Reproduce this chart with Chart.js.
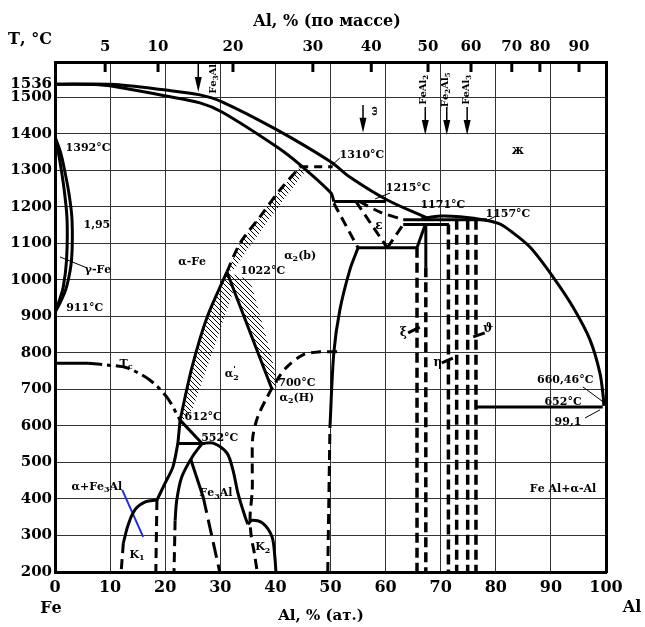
<!DOCTYPE html>
<html>
<head>
<meta charset="utf-8">
<script src="https://cdn.jsdelivr.net/npm/chart.js@4.4.0/dist/chart.umd.min.js"></script>
<style>
  html, body { margin: 0; padding: 0; background: #fff; }
</style>
</head>
<body>
<canvas id="diagram" width="645" height="627"></canvas>
<script>
// Fe-Al phase diagram, at.% Al vs T (°C)
const xTicksAt = [0, 10, 20, 30, 40, 50, 60, 70, 80, 90, 100];
const yTicks = [200, 300, 400, 500, 600, 700, 800, 900, 1000, 1100, 1200, 1300, 1400, 1500, 1536];
const wtLabels = ['5', '10', '20', '30', '40', '50', '60', '70', '80', '90'];
const wtAtPos = [9.1, 18.7, 32.3, 46.8, 57.4, 67.7, 75.5, 82.9, 88.0, 95.1];

// solid boundaries
const liquidusLeft = [[0, 1536], [10.2, 1536], [20.1, 1520], [26.3, 1507], [30.3, 1488], [40.3, 1411], [50.1, 1323], [53.5, 1282], [60.3, 1219], [67.5, 1170]];
const solidusLeft = [[0, 1536], [8, 1535], [10.2, 1531], [20.1, 1504], [26.3, 1485], [30.3, 1460], [40.3, 1364], [44.5, 1315], [50.1, 1238], [50.6, 1215]];
const gammaInner = [[0, 1392], [0.6, 1350], [1.2, 1296], [1.8, 1230], [2.2, 1160], [2.1, 1055], [1.5, 981], [0.7, 940], [0, 911]];
const gammaOuter = [[0, 1392], [1.0, 1350], [1.8, 1296], [2.6, 1230], [3.1, 1160], [3.0, 1055], [2.1, 981], [1.0, 940], [0, 911]];
const curieSolid = [[0, 772], [6, 772]];
const curieDashed = [[6, 772], [9.4, 767], [13.1, 759], [17.2, 726], [20.3, 679], [22.7, 616]];
const alphaLow = [[22.7, 616], [24.9, 763], [27.6, 898], [31.2, 1022]];
const alphaHigh = [[31.2, 1022], [33.6, 1101], [37.2, 1173], [40.8, 1246], [44.5, 1310]];
const line1310 = [[44.5, 1310], [50.4, 1310]];
const line1022 = [[31.2, 1022], [39.4, 700]];
const triangle552 = [[22.7, 616], [22.3, 552], [26.7, 552], [22.7, 616]];
const alphaFe3Al = [[22.3, 552], [21.4, 488], [20.0, 444], [18.5, 397]];
const k1Solid = [[18.5, 397], [16.4, 392], [14.6, 372], [13.3, 330], [12.4, 279]];
const k1Dashed = [[12.4, 279], [12.0, 200]];
const vert18 = [[18.5, 397], [18.4, 300], [18.3, 200]];
const fe3alRight = [[26.7, 552], [28.7, 553], [31.2, 526], [32.3, 479], [33.2, 416], [34.5, 351], [35.0, 331]];
const k2 = [[35.0, 331], [35.8, 342], [37.7, 334], [39.4, 296], [39.9, 241], [40.1, 200]];
const fe3alLeft = [[26.7, 552], [24.9, 515], [23.0, 460], [22.1, 397], [21.8, 342]];
const fe3alLeftDashed = [[21.8, 342], [21.6, 200]];
const b2Solid = [[24.6, 510], [26.9, 405]];
const b2Dashed = [[26.9, 405], [29.9, 200]];
const domeDashed = [[51.2, 803], [48.1, 803], [45.0, 795], [42.1, 762], [40.3, 726], [38.5, 679], [36.8, 625], [35.9, 570], [35.8, 499], [35.8, 425], [35.4, 351], [35.6, 300], [36.2, 250], [36.7, 200]];
const feal50Dashed = [[49.5, 200], [49.9, 597]];
const feal50Solid = [[49.9, 597], [50.6, 800], [51.7, 918], [53.5, 1027], [55.0, 1088]];
const bar1090 = [[55.0, 1088], [65.7, 1088]];
const bar1215 = [[50.6, 1215], [60.1, 1215]];
const epsLeft = [[50.6, 1210], [55.0, 1088]];
const epsMid = [[54.6, 1215], [60.3, 1088]];
const epsRight = [[60.3, 1088], [63.2, 1152]];
const epsTop = [[55.2, 1215], [59.0, 1186], [63.2, 1165]];
const epsEdge = [[65.7, 1088], [67.2, 1152]];
const bar1165 = [[63.2, 1165], [78.4, 1165]];
const bar1152 = [[63.2, 1152], [71.5, 1152]];
const feal2Solid = [[67.3, 1152], [67.3, 1035]];
const feal2Dashed = [[67.3, 1035], [67.3, 200]];
const vert657 = [[65.7, 1088], [65.7, 200]];
const vert714 = [[71.4, 1152], [71.4, 200]];
const vert729 = [[72.9, 1165], [72.9, 200]];
const vert749 = [[74.9, 1165], [74.9, 200]];
const vert764 = [[76.4, 1165], [76.4, 200]];
const bar652 = [[76.4, 652], [99.4, 652]];
const liquidusRight = [[66.5, 1168], [69.9, 1175], [73.5, 1173], [78.4, 1163], [80.8, 1153], [82.6, 1135], [86.2, 1090], [90.4, 1008], [94.0, 926], [97.1, 836], [98.9, 745], [99.5, 680], [99.6, 655]];

// hatched bands
const hatchHigh = [[31.2, 1022], [33.6, 1101], [37.2, 1173], [40.8, 1246], [44.5, 1310], [45.3, 1295], [42.0, 1230], [38.6, 1160], [35.0, 1085], [32.6, 1030]];
const hatchLow = [[22.7, 616], [24.9, 763], [27.6, 898], [31.2, 1022], [33.2, 1006], [28.7, 808], [24.9, 644], [23.2, 616]];
const hatchRight = [[31.2, 1022], [35.4, 1000], [39.0, 808], [40.5, 712], [39.4, 700]];

// leader lines
const thinLeaders = [
  [[0.9, 1063], [5.8, 1033]],
  [[50.3, 1315], [51.7, 1334]],
  [[58.1, 1222], [60.8, 1238]],
  [[78.6, 1164], [80.0, 1175]],
  [[95.8, 707], [99.5, 666]],
  [[96.2, 622], [98.9, 644]]
];
const thickLeaders = [
  [[64.1, 855], [66.2, 871]],
  [[70.2, 773], [72.2, 786]],
  [[75.9, 844], [78.0, 855]]
];
const blueLeader = [[12.2, 425], [16.0, 296]];

// compound arrows: x, top T, tip T
const arrows = [[26.0, 1597, 1515], [55.9, 1479, 1403], [67.2, 1474, 1397], [71.1, 1474, 1397], [74.8, 1474, 1397]];

// text inside the field: x, T, text ('_' subscript, '^' superscript)
const notes = [
  [6.0, 1362, '1392°C'], [7.6, 1151, '1,95'], [7.8, 1027, 'γ-Fe'], [5.4, 923, '911°C'],
  [12.9, 770, 'T_c'], [24.9, 1049, 'α-Fe'], [37.7, 1025, '1022°C'], [44.5, 1066, 'α_2(b)'],
  [32.1, 742, "α^'_2"], [43.9, 718, '700°C'], [43.9, 677, 'α_2(H)'], [26.9, 625, '612°C'],
  [29.9, 567, '552°C'], [7.6, 433, 'α+Fe_3Al'], [29.2, 416, 'Fe_3Al'], [14.9, 247, 'K_1'],
  [37.7, 268, 'K_2'], [55.7, 1342, '1310°C'], [64.1, 1252, '1215°C'], [58.8, 1148, 'ε'],
  [70.4, 1205, '1171°C'], [82.2, 1181, '1157°C'], [84.0, 1353, 'ж'], [63.2, 855, 'ξ'],
  [69.5, 773, 'η'], [78.6, 866, 'ϑ'], [92.6, 726, '660,46°C'], [92.2, 666, '652°C'],
  [93.1, 611, '99,1'], [92.2, 427, 'Fe Al+α-Al']
];
const rotNotes = [
  [28.7, 1551, 'Fe_3Al'], [57.9, 1463, 'ω'], [66.8, 1521, 'FeAl_2'], [70.8, 1521, 'Fe_2Al_5'], [74.6, 1521, 'FeAl_3']
];

const SERIF = '"DejaVu Serif", "Liberation Serif", serif';

function makeHatch() {
  const c = document.createElement('canvas');
  c.width = 5; c.height = 5;
  const g = c.getContext('2d');
  g.strokeStyle = '#000';
  g.lineWidth = 1;
  g.beginPath();
  g.moveTo(-1, -1); g.lineTo(6, 6);
  g.moveTo(-1, 4); g.lineTo(1, 6);
  g.moveTo(4, -1); g.lineTo(6, 1);
  g.stroke();
  return g.createPattern(c, 'repeat');
}

function ds(pts, o = {}) {
  return Object.assign({
    data: pts.map(([x, y]) => ({ x, y })),
    showLine: true,
    borderColor: '#000',
    borderWidth: 3,
    pointRadius: 0,
    tension: 0,
    fill: false,
    order: 1
  }, o);
}

const DASH = { borderDash: [10, 6] };
const VDASH = { borderDash: [10, 5], borderWidth: 3.5 };
const CURVE = { tension: 0.3 };
const hatch = makeHatch();

const datasets = [
  ds(hatchHigh, { fill: 'shape', backgroundColor: hatch, borderWidth: 0, order: 5 }),
  ds(hatchLow, { fill: 'shape', backgroundColor: hatch, borderWidth: 0, order: 5 }),
  ds(hatchRight, { fill: 'shape', backgroundColor: hatch, borderWidth: 0, order: 5 }),
  ds(liquidusLeft, CURVE),
  ds(solidusLeft, CURVE),
  ds(gammaInner, { tension: 0.4 }),
  ds(gammaOuter, { tension: 0.4 }),
  ds(curieSolid),
  ds(curieDashed, { tension: 0.3, borderDash: [14, 5, 4, 5] }),
  ds(alphaLow, CURVE),
  ds(alphaHigh, { tension: 0.3, borderDash: [10, 6] }),
  ds(line1310, { borderDash: [8, 6] }),
  ds(line1022),
  ds(triangle552),
  ds(alphaFe3Al, CURVE),
  ds(k1Solid, { tension: 0.4 }),
  ds(k1Dashed, DASH),
  ds(vert18, DASH),
  ds(fe3alRight, CURVE),
  ds(k2, CURVE),
  ds(fe3alLeft, CURVE),
  ds(fe3alLeftDashed, DASH),
  ds(b2Solid),
  ds(b2Dashed, { borderDash: [16, 7] }),
  ds(domeDashed, { tension: 0.3, borderDash: [10, 6] }),
  ds(feal50Dashed, DASH),
  ds(feal50Solid, CURVE),
  ds(bar1090),
  ds(bar1215),
  ds(epsLeft, DASH),
  ds(epsMid, DASH),
  ds(epsRight, DASH),
  ds(epsTop, { tension: 0.3, borderDash: [10, 6] }),
  ds(epsEdge),
  ds(bar1165),
  ds(bar1152),
  ds(feal2Solid),
  ds(feal2Dashed, VDASH),
  ds(vert657, VDASH),
  ds(vert714, VDASH),
  ds(vert729, VDASH),
  ds(vert749, VDASH),
  ds(vert764, VDASH),
  ds(bar652),
  ds(liquidusRight, CURVE),
  ds(blueLeader, { borderColor: '#1f2fe0', borderWidth: 2 })
];
thinLeaders.forEach(p => datasets.push(ds(p, { borderWidth: 1 })));
thickLeaders.forEach(p => datasets.push(ds(p, { borderWidth: 3 })));
arrows.forEach(([x, t0, t1]) => datasets.push(ds([[x, t0], [x, t1 + 20]], { borderWidth: 1.5 })));

function drawRich(ctx, text, x, y, size, rot) {
  const parts = [];
  for (let i = 0; i < text.length; i++) {
    const c = text[i];
    if ((c === '_' || c === '^') && i + 1 < text.length) {
      parts.push({ t: text[i + 1], k: c });
      i++;
    } else {
      parts.push({ t: c, k: '' });
    }
  }
  const big = `bold ${size}px ${SERIF}`;
  const small = `bold ${Math.round(size * 0.7)}px ${SERIF}`;
  let w = 0;
  parts.forEach(p => {
    ctx.font = p.k ? small : big;
    p.w = ctx.measureText(p.t).width;
    if (p.k !== '^') w += p.w;
  });
  ctx.save();
  ctx.translate(x, y);
  ctx.rotate(rot || 0);
  ctx.fillStyle = '#000';
  ctx.textBaseline = 'middle';
  ctx.textAlign = 'left';
  let cx = -w / 2;
  parts.forEach(p => {
    ctx.font = p.k ? small : big;
    const dy = p.k === '_' ? size * 0.3 : (p.k === '^' ? -size * 0.45 : 0);
    ctx.fillText(p.t, cx, dy);
    if (p.k !== '^') cx += p.w;
  });
  ctx.restore();
}

const annotations = {
  id: 'annotations',
  afterDatasetsDraw(chart) {
    const { ctx } = chart;
    const sx = chart.scales.x, sy = chart.scales.y, s2 = chart.scales.x2;
    // arrow heads
    ctx.save();
    ctx.fillStyle = '#000';
    arrows.forEach(([x, , tip]) => {
      const px = sx.getPixelForValue(x), py = sy.getPixelForValue(tip);
      ctx.beginPath();
      ctx.moveTo(px, py);
      ctx.lineTo(px - 3.5, py - 15);
      ctx.lineTo(px + 3.5, py - 15);
      ctx.closePath();
      ctx.fill();
    });
    // inner tick marks of the weight-% axis
    ctx.strokeStyle = '#000';
    ctx.lineWidth = 3;
    s2.ticks.forEach(t => {
      const px = s2.getPixelForValue(t.value);
      ctx.beginPath();
      ctx.moveTo(px, chart.chartArea.top);
      ctx.lineTo(px, chart.chartArea.top + 10);
      ctx.stroke();
    });
    ctx.restore();

    notes.forEach(([x, t, txt]) => {
      const size = (txt.length <= 2 && !txt.includes('_')) ? 12 : 11;
      drawRich(ctx, txt, sx.getPixelForValue(x), sy.getPixelForValue(t), size, 0);
    });
    rotNotes.forEach(([x, t, txt]) => {
      drawRich(ctx, txt, sx.getPixelForValue(x), sy.getPixelForValue(t), 10, -Math.PI / 2);
    });
  },
  afterDraw(chart) {
    const { ctx } = chart;
    drawRich(ctx, 'T, °C', 30, 40, 16, 0);
    drawRich(ctx, 'Al, % (по массе)', 327, 22, 16, 0);
    drawRich(ctx, 'Al, % (ат.)', 321, 616, 15, 0);
    drawRich(ctx, 'Fe', 51, 609, 16, 0);
    drawRich(ctx, 'Al', 632, 608, 16, 0);
  }
};

const tickFont = size => ({ family: SERIF, weight: 'bold', size });

new Chart(document.getElementById('diagram'), {
  type: 'scatter',
  data: { datasets },
  options: {
    responsive: false,
    animation: false,
    devicePixelRatio: 1,
    layout: { padding: 0 },
    plugins: { legend: { display: false }, tooltip: { enabled: false } },
    scales: {
      x: {
        type: 'linear', position: 'bottom', min: 0, max: 100,
        afterBuildTicks: s => { s.ticks = xTicksAt.map(v => ({ value: v })); },
        afterFit: s => { s.height = 55; },
        ticks: { color: '#000', font: tickFont(16), padding: 6, autoSkip: false, maxRotation: 0,
          callback: v => String(v) },
        grid: { color: '#333', lineWidth: 1, drawTicks: false },
        border: { color: '#000', width: 3 }
      },
      x2: {
        type: 'linear', position: 'top', min: 0, max: 100,
        afterBuildTicks: s => { s.ticks = wtAtPos.map(v => ({ value: v })); },
        afterFit: s => { s.height = 62; },
        ticks: { color: '#000', font: tickFont(15), padding: 6, autoSkip: false, maxRotation: 0,
          callback: (v, i) => wtLabels[i] },
        grid: { drawOnChartArea: false, drawTicks: false },
        border: { color: '#000', width: 3 }
      },
      y: {
        type: 'linear', position: 'left', min: 200, max: 1597,
        afterBuildTicks: s => { s.ticks = yTicks.map(v => ({ value: v })); },
        afterFit: s => { s.width = 55; },
        ticks: { color: '#000', font: tickFont(15), padding: 3, autoSkip: false,
          callback: v => String(v) },
        grid: { color: c => (c.tick && c.tick.value === 1536) ? 'rgba(0,0,0,0)' : '#333', lineWidth: 1, drawTicks: false },
        border: { color: '#000', width: 3 }
      },
      y2: {
        type: 'linear', position: 'right', min: 200, max: 1597,
        afterFit: s => { s.width = 39; },
        ticks: { display: false },
        grid: { drawOnChartArea: false, drawTicks: false },
        border: { color: '#000', width: 3 }
      }
    }
  },
  plugins: [annotations]
});
</script>
</body>
</html>
